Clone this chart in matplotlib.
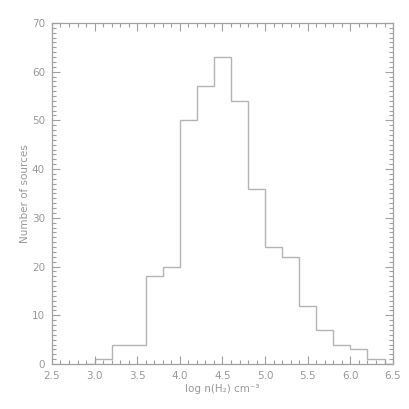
import matplotlib
matplotlib.use("Agg")
import matplotlib.pyplot as plt
from matplotlib.ticker import MultipleLocator
import numpy as np

# histogram of log n(H2), bin width 0.2
bin_edges = [2.9, 3.0, 3.2, 3.4, 3.6, 3.8, 4.0, 4.2, 4.4, 4.6, 4.8,
             5.0, 5.2, 5.4, 5.6, 5.8, 6.0, 6.2, 6.4, 6.5]
counts = [0, 1, 4, 4, 18, 20, 50, 57, 63, 54, 36,
          24, 22, 12, 7, 4, 3, 1, 0]

x_ticks = [2.5, 3.0, 3.5, 4.0, 4.5, 5.0, 5.5, 6.0, 6.5]
y_ticks = [0, 10, 20, 30, 40, 50, 60, 70]

axis_col = "#a0a0a0"
text_col = "#999999"
line_col = "#b4b4b4"

fig = plt.figure(figsize=(4.09, 4.09), dpi=100)
ax = fig.add_axes([0.127, 0.110, 0.834, 0.834])

ax.stairs(counts, bin_edges, color=line_col, linewidth=1.0)

ax.set_xlim(2.5, 6.5)
ax.set_ylim(0, 70)
ax.set_xticks(x_ticks)
ax.set_xticklabels(["%.1f" % v for v in x_ticks])
ax.set_yticks(y_ticks)
ax.xaxis.set_minor_locator(MultipleLocator(0.1))
ax.yaxis.set_minor_locator(MultipleLocator(1))

ax.tick_params(which="both", direction="in", top=True, right=True,
               color=axis_col, labelcolor=text_col, labelsize=7.5, width=0.8)
ax.tick_params(which="major", length=6, pad=5)
ax.tick_params(which="minor", length=3)
for s in ax.spines.values():
    s.set_color(axis_col)
    s.set_linewidth(0.9)

ax.set_xlabel("log n(H\u2082) cm\u207b\u00b3", color=text_col, fontsize=7.5, labelpad=2)
ax.set_ylabel("Number of sources", color=text_col, fontsize=7.5, labelpad=1)

fig.savefig("out.png", dpi=100)
